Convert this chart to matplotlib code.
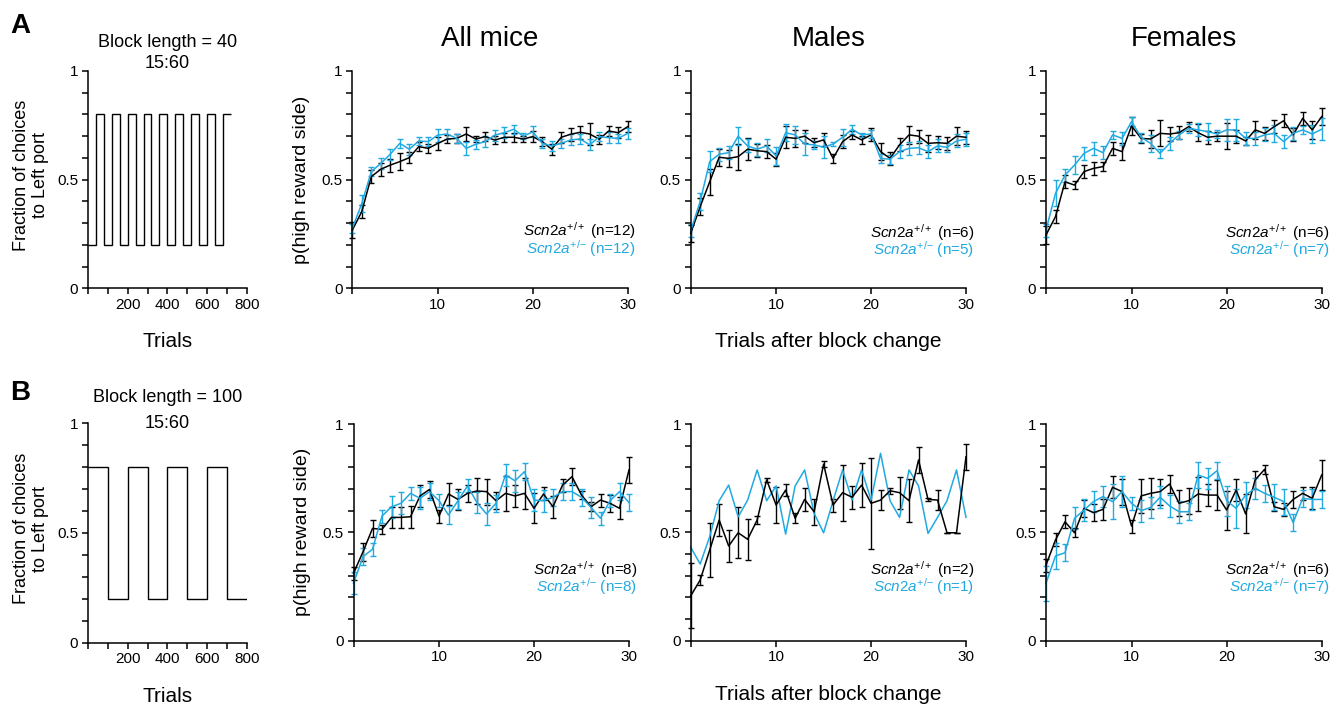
import numpy as np
import matplotlib
matplotlib.use('Agg')
import matplotlib.pyplot as plt

plt.rcParams['font.family'] = 'Liberation Sans'
plt.rcParams['mathtext.fontset'] = 'custom'
plt.rcParams['mathtext.rm'] = 'Liberation Sans'
plt.rcParams['mathtext.it'] = 'Liberation Sans:italic'
plt.rcParams['mathtext.bf'] = 'Liberation Sans:bold'

WT_COLOR = 'black'
HET_COLOR = '#21A9E1'

##
## Data
##

# block schedule (fraction of left port choices rewarded per block)
blk40_edges = [0, 40, 80, 120, 160, 200, 240, 280, 320, 360, 400, 440, 480, 520, 560, 600, 640, 680, 720]
blk40_levels = [0.2, 0.8, 0.2, 0.8, 0.2, 0.8, 0.2, 0.8, 0.2, 0.8, 0.2, 0.8, 0.2, 0.8, 0.2, 0.8, 0.2, 0.8]
blk100_edges = [0, 100, 200, 300, 400, 500, 600, 700, 800]
blk100_levels = [0.8, 0.2, 0.8, 0.2, 0.8, 0.2, 0.8, 0.2]

trials = list(range(1, 31))

## Block length = 40
all40_wt = [0.268, 0.353, 0.514, 0.548, 0.567, 0.583, 0.601, 0.652, 0.644, 0.667, 0.687, 0.690, 0.710, 0.687, 0.698,
            0.682, 0.695, 0.695, 0.687, 0.698, 0.675, 0.640, 0.695, 0.709, 0.718, 0.710, 0.686, 0.724, 0.716, 0.744]
all40_wt_sem = [0.035, 0.03, 0.03, 0.03, 0.03, 0.04, 0.025, 0.02, 0.02, 0.03, 0.02, 0.02, 0.03, 0.015, 0.02,
                0.02, 0.02, 0.02, 0.015, 0.025, 0.02, 0.025, 0.025, 0.03, 0.03, 0.05, 0.02, 0.025, 0.025, 0.025]
all40_het = [0.276, 0.390, 0.537, 0.575, 0.617, 0.667, 0.640, 0.678, 0.675, 0.705, 0.710, 0.690, 0.644, 0.663, 0.675,
             0.705, 0.716, 0.732, 0.700, 0.720, 0.667, 0.655, 0.667, 0.683, 0.687, 0.660, 0.698, 0.693, 0.690, 0.713]
all40_het_sem = [0.02, 0.04, 0.02, 0.025, 0.025, 0.02, 0.025, 0.02, 0.02, 0.03, 0.025, 0.02, 0.03, 0.02, 0.025,
                 0.025, 0.025, 0.02, 0.015, 0.025, 0.02, 0.025, 0.02, 0.025, 0.025, 0.025, 0.02, 0.025, 0.02, 0.025]

male40_wt = [0.253, 0.376, 0.490, 0.603, 0.598, 0.606, 0.640, 0.633, 0.629, 0.594, 0.695, 0.690, 0.700, 0.670, 0.683,
             0.598, 0.675, 0.706, 0.683, 0.706, 0.629, 0.598, 0.660, 0.706, 0.700, 0.667, 0.670, 0.667, 0.700, 0.695]
male40_wt_sem = [0.04, 0.04, 0.06, 0.04, 0.04, 0.06, 0.05, 0.03, 0.03, 0.03, 0.05, 0.04, 0.03, 0.02, 0.03,
                 0.02, 0.03, 0.02, 0.02, 0.03, 0.04, 0.03, 0.03, 0.04, 0.03, 0.04, 0.03, 0.03, 0.04, 0.03]
male40_het = [0.265, 0.400, 0.583, 0.617, 0.624, 0.700, 0.655, 0.640, 0.655, 0.609, 0.716, 0.706, 0.664, 0.660, 0.649,
              0.664, 0.695, 0.732, 0.706, 0.710, 0.598, 0.594, 0.629, 0.644, 0.647, 0.629, 0.655, 0.649, 0.678, 0.686]
male40_het_sem = [0.03, 0.04, 0.05, 0.03, 0.03, 0.04, 0.03, 0.03, 0.03, 0.04, 0.04, 0.04, 0.05, 0.02, 0.05,
                  0.01, 0.04, 0.02, 0.01, 0.02, 0.02, 0.02, 0.03, 0.03, 0.03, 0.03, 0.03, 0.02, 0.03, 0.03]

fem40_wt = [0.245, 0.330, 0.490, 0.475, 0.537, 0.552, 0.560, 0.644, 0.629, 0.747, 0.690, 0.687, 0.713, 0.710, 0.716,
            0.744, 0.716, 0.695, 0.700, 0.700, 0.700, 0.678, 0.729, 0.713, 0.744, 0.771, 0.706, 0.782, 0.729, 0.790]
fem40_wt_sem = [0.04, 0.03, 0.03, 0.02, 0.03, 0.03, 0.02, 0.03, 0.04, 0.04, 0.02, 0.04, 0.06, 0.03, 0.03,
                0.02, 0.04, 0.03, 0.02, 0.06, 0.03, 0.02, 0.04, 0.03, 0.03, 0.03, 0.03, 0.03, 0.04, 0.04]
fem40_het = [0.268, 0.437, 0.521, 0.567, 0.621, 0.644, 0.624, 0.706, 0.690, 0.767, 0.695, 0.667, 0.621, 0.667, 0.706,
             0.736, 0.729, 0.721, 0.710, 0.729, 0.729, 0.690, 0.690, 0.706, 0.713, 0.675, 0.713, 0.729, 0.710, 0.732]
fem40_het_sem = [0.03, 0.06, 0.03, 0.04, 0.03, 0.03, 0.03, 0.02, 0.03, 0.02, 0.02, 0.04, 0.02, 0.03, 0.02,
                 0.02, 0.03, 0.04, 0.02, 0.05, 0.05, 0.03, 0.03, 0.03, 0.04, 0.03, 0.03, 0.02, 0.04, 0.05]

## Block length = 100
all100_wt = [0.311, 0.410, 0.518, 0.514, 0.569, 0.569, 0.572, 0.668, 0.698, 0.575, 0.677, 0.652, 0.680, 0.691, 0.688,
             0.646, 0.680, 0.668, 0.680, 0.611, 0.677, 0.618, 0.718, 0.757, 0.672, 0.618, 0.649, 0.634, 0.611, 0.788]
all100_wt_sem = [0.03, 0.04, 0.04, 0.02, 0.05, 0.05, 0.05, 0.05, 0.04, 0.03, 0.05, 0.05, 0.04, 0.06, 0.06,
                 0.04, 0.08, 0.05, 0.07, 0.07, 0.03, 0.05, 0.03, 0.04, 0.02, 0.02, 0.03, 0.04, 0.05, 0.06]
all100_het = [0.265, 0.388, 0.422, 0.575, 0.618, 0.634, 0.680, 0.657, 0.688, 0.646, 0.580, 0.646, 0.714, 0.637, 0.585,
              0.634, 0.765, 0.738, 0.780, 0.649, 0.646, 0.662, 0.688, 0.688, 0.662, 0.615, 0.565, 0.646, 0.688, 0.637]
all100_het_sem = [0.05, 0.04, 0.03, 0.03, 0.05, 0.05, 0.03, 0.05, 0.04, 0.03, 0.04, 0.04, 0.03, 0.05, 0.05,
                  0.04, 0.05, 0.05, 0.04, 0.05, 0.05, 0.04, 0.04, 0.04, 0.04, 0.05, 0.03, 0.03, 0.04, 0.04]

male100_wt = [0.207, 0.280, 0.418, 0.557, 0.437, 0.498, 0.468, 0.557, 0.742, 0.626, 0.695, 0.565, 0.652, 0.595, 0.815,
              0.626, 0.683, 0.662, 0.718, 0.634, 0.649, 0.692, 0.683, 0.646, 0.834, 0.652, 0.649, 0.498, 0.498, 0.849]
male100_wt_sem = [0.15, 0.025, 0.125, 0.072, 0.072, 0.118, 0.094, 0.017, 0.008, 0.082, 0.028, 0.022, 0.054, 0.06, 0.015,
                  0.03, 0.13, 0.052, 0.1, 0.21, 0.046, 0.014, 0.073, 0.1, 0.06, 0.008, 0.046, 0.0, 0.0, 0.06]
male100_het = [0.431, 0.354, 0.480, 0.646, 0.718, 0.572, 0.649, 0.788, 0.646, 0.714, 0.492, 0.714, 0.788, 0.588, 0.498,
               0.646, 0.788, 0.649, 0.788, 0.649, 0.865, 0.646, 0.569, 0.788, 0.714, 0.495, 0.569, 0.646, 0.788, 0.569]

fem100_wt = [0.349, 0.465, 0.549, 0.498, 0.611, 0.591, 0.606, 0.708, 0.688, 0.529, 0.668, 0.680, 0.688, 0.723, 0.634,
             0.646, 0.677, 0.672, 0.672, 0.603, 0.695, 0.585, 0.742, 0.791, 0.618, 0.606, 0.652, 0.680, 0.657, 0.765]
fem100_wt_sem = [0.03, 0.03, 0.03, 0.02, 0.04, 0.04, 0.05, 0.05, 0.06, 0.03, 0.08, 0.07, 0.06, 0.04, 0.06,
                 0.06, 0.08, 0.05, 0.07, 0.09, 0.05, 0.09, 0.04, 0.02, 0.02, 0.03, 0.04, 0.03, 0.05, 0.07]
fem100_het = [0.265, 0.391, 0.406, 0.565, 0.603, 0.642, 0.665, 0.642, 0.688, 0.634, 0.600, 0.615, 0.662, 0.622, 0.595,
              0.595, 0.765, 0.749, 0.785, 0.646, 0.611, 0.672, 0.703, 0.680, 0.662, 0.642, 0.545, 0.657, 0.652, 0.652]
fem100_het_sem = [0.08, 0.06, 0.04, 0.05, 0.05, 0.05, 0.05, 0.08, 0.07, 0.03, 0.05, 0.05, 0.05, 0.05, 0.05,
                  0.04, 0.06, 0.05, 0.04, 0.07, 0.09, 0.06, 0.05, 0.04, 0.06, 0.06, 0.04, 0.04, 0.05, 0.04]

y_ticks = [0, 0.1, 0.2, 0.3, 0.4, 0.5, 0.6, 0.7, 0.8, 0.9, 1.0]
y_ticklabels = ['0', '', '', '', '', '0.5', '', '', '', '', '1']

##
## Layout (pixel boxes on a 1340x704 canvas)
##
W, H = 1340, 704


def rect(x0, x1, y0, y1):
    return [x0 / W, 1 - y1 / H, (x1 - x0) / W, (y1 - y0) / H]


def style(ax):
    for s in ['top', 'right']:
        ax.spines[s].set_visible(False)
    for s in ['left', 'bottom']:
        ax.spines[s].set_linewidth(1.1)
    ax.tick_params(direction='out', length=4, width=1.1, labelsize=11, pad=3)
    ax.set_ylim(0, 1)
    ax.set_yticks(y_ticks)
    ax.set_yticklabels(y_ticklabels)


def noclip(container):
    for a in container.get_children():
        a.set_clip_on(False)


def schedule_panel(ax, edges, levels, title1, title2, y1, y2):
    style(ax)
    ax.stairs(levels, edges, baseline=None, color='black', lw=1.0)
    ax.set_xlim(0, 800)
    ax.set_xticks([0, 100, 200, 300, 400, 500, 600, 700, 800])
    ax.set_xticklabels(['', '', '200', '', '400', '', '600', '', '800'])
    ax.text(0.5, y1, title1, transform=ax.transAxes, ha='center', va='baseline', fontsize=13)
    ax.text(0.5, y2, title2, transform=ax.transAxes, ha='center', va='baseline', fontsize=13)
    ax.text(-0.36, 0.52, 'Fraction of choices\nto Left port', transform=ax.transAxes, rotation=90,
            ha='center', va='center', fontsize=13, linespacing=1.1)
    ax.text(0.5, -0.269, 'Trials', transform=ax.transAxes, ha='center', va='baseline', fontsize=15)


def curve_panel(ax, wt, wt_sem, het, het_sem, n_wt, n_het, leg_y):
    style(ax)
    c = ax.errorbar(trials, wt, yerr=wt_sem, color=WT_COLOR, lw=1.1, elinewidth=1.0,
                    capsize=2, capthick=1.0)
    noclip(c)
    if het_sem is None:
        ax.plot(trials, het, color=HET_COLOR, lw=1.1, clip_on=False)
    else:
        c = ax.errorbar(trials, het, yerr=het_sem, color=HET_COLOR, lw=1.1, elinewidth=1.0,
                        capsize=2, capthick=1.0)
        noclip(c)
    ax.set_xlim(1, 30)
    ax.set_xticks([1, 10, 20, 30])
    ax.set_xticklabels(['', '10', '20', '30'])
    ax.text(1.03, leg_y, r'$\mathit{Scn2a}^{+/+}$ (n=%d)' % n_wt, transform=ax.transAxes,
            ha='right', va='baseline', fontsize=11, color=WT_COLOR)
    ax.text(1.03, leg_y - 0.08, r'$\mathit{Scn2a}^{+/{-}}$ (n=%d)' % n_het, transform=ax.transAxes,
            ha='right', va='baseline', fontsize=11, color=HET_COLOR)


fig = plt.figure(figsize=(13.4, 7.04), dpi=100)

# row A
axA = fig.add_axes(rect(88, 246.7, 71, 288.3))
schedule_panel(axA, blk40_edges, blk40_levels, 'Block length = 40', '15:60', 1.1106, 1.0138)
ax1 = fig.add_axes(rect(352.3, 627.7, 71, 288.3))
curve_panel(ax1, all40_wt, all40_wt_sem, all40_het, all40_het_sem, 12, 12, 0.24)
ax2 = fig.add_axes(rect(690.7, 966, 71, 288.3))
curve_panel(ax2, male40_wt, male40_wt_sem, male40_het, male40_het_sem, 6, 5, 0.235)
ax3 = fig.add_axes(rect(1046, 1321.7, 71, 288.3))
curve_panel(ax3, fem40_wt, fem40_wt_sem, fem40_het, fem40_het_sem, 6, 7, 0.235)

# row B
axB = fig.add_axes(rect(88, 246.7, 423.3, 642.7))
schedule_panel(axB, blk100_edges, blk100_levels, 'Block length = 100', '15:60', 1.097, 0.977)
ax4 = fig.add_axes(rect(353.5, 629, 424, 640.7))
curve_panel(ax4, all100_wt, all100_wt_sem, all100_het, all100_het_sem, 8, 8, 0.305)
ax5 = fig.add_axes(rect(690.7, 966, 424, 640.7))
curve_panel(ax5, male100_wt, male100_wt_sem, male100_het, None, 2, 1, 0.305)
ax6 = fig.add_axes(rect(1046, 1321.7, 424, 640.7))
curve_panel(ax6, fem100_wt, fem100_wt_sem, fem100_het, fem100_het_sem, 6, 7, 0.305)

# column titles
for ax, t in zip([ax1, ax2, ax3], ['All mice', 'Males', 'Females']):
    ax.text(0.5, 1 + 25 / 217.0, t, transform=ax.transAxes, ha='center', va='baseline', fontsize=20)

# axis labels
for ax in [ax1, ax4]:
    ax.text(-0.186, 0.5, 'p(high reward side)', transform=ax.transAxes, rotation=90,
            ha='center', va='center', fontsize=14)
for ax in [ax2, ax5]:
    ax.text(0.5, -0.272, 'Trials after block change', transform=ax.transAxes,
            ha='center', va='baseline', fontsize=15)

# panel letters
fig.text(10 / W, 1 - 33 / H, 'A', fontsize=20, fontweight='bold', va='baseline')
fig.text(10 / W, 1 - 400 / H, 'B', fontsize=20, fontweight='bold', va='baseline')

plt.savefig('out.png', dpi=100)
plt.close()
